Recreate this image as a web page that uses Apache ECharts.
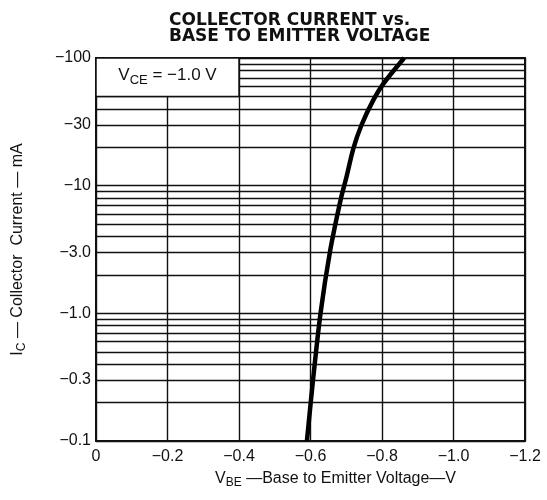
<!DOCTYPE html>
<html>
<head>
<meta charset="utf-8">
<script src="https://cdn.jsdelivr.net/npm/echarts@6/dist/echarts.min.js"></script>
<style>
 html,body{margin:0;padding:0;background:#fff;}
 #container{width:547px;height:500px;}
</style>
</head>
<body>
<div id="container"></div>
<script>
// curve (magnitudes: -V and -mA)
var vbe = [0.590, 0.607, 0.628, 0.655, 0.684, 0.701, 0.720, 0.743, 0.776, 0.804, 0.862];
var ic  = [0.1,   0.3,   1.0,   3.1,   7.7,   11.8,  19.6,  30,    47,    63,    100];

var xTicks = [0, 0.2, 0.4, 0.6, 0.8, 1.0, 1.2];
var yLabels = [0.1, 0.3, 1, 3, 10, 30, 100];
var yGrid = [0.1, 0.2, 0.3, 0.4, 0.5, 0.6, 0.7, 0.8, 0.9,
             1, 2, 3, 4, 5, 6, 7, 8, 9,
             10, 20, 30, 40, 50, 60, 70, 80, 90, 100];

var font = 'Liberation Sans';
var dom = document.getElementById("container");
var myChart = echarts.init(dom);
var pts = vbe.map(function(v, i){ return [v, ic[i]]; });

option = {
	backgroundColor: '#fff',
	animation: false,
	title: {
		text: 'COLLECTOR CURRENT vs.\nBASE TO EMITTER VOLTAGE',
		left: 164, top: 8,
		textStyle: {fontFamily: 'DejaVu Sans', fontWeight: 'bold', fontSize: 17, lineHeight: 16, color: '#111'}
	},
	grid: {left: 96, right: 22, top: 58, bottom: 59, show: true, borderColor: '#111', borderWidth: 2, backgroundColor: 'transparent'},
	xAxis: {
		type: 'value', min: 0, max: 1.2, interval: 0.2,
		axisLine: {show: false}, axisTick: {show: false},
		axisLabel: {
			fontFamily: font, fontSize: 16, color: '#111', margin: 8,
			customValues: xTicks,
			formatter: function(v){ return v === 0 ? '0' : '\u2212' + v.toFixed(1); }
		},
		splitLine: {show: true, lineStyle: {color: '#111', width: 1.4}},
		name: '{v|V}{s|BE}{v| \u2014Base to Emitter Voltage\u2014V}',
		nameLocation: 'middle', nameGap: 30,
		nameTextStyle: {
			padding: [0, 0, 0, 50],
			rich: {
				v: {fontFamily: font, fontSize: 16, color: '#111', lineHeight: 18, verticalAlign: 'top'},
				s: {fontFamily: font, fontSize: 12, color: '#111', lineHeight: 18, verticalAlign: 'bottom', padding: [6, 0, 0, 0]}
			}
		}
	},
	yAxis: {
		type: 'log', logBase: 10, min: 0.1, max: 100,
		axisLine: {show: false},
		axisTick: {show: false, customValues: yGrid},
		axisLabel: {
			fontFamily: font, fontSize: 16, color: '#111', margin: 5,
			customValues: yLabels,
			formatter: function(v){ return '\u2212' + (v >= 10 ? String(Math.round(v)) : v.toFixed(1)); }
		},
		splitLine: {show: true, lineStyle: {color: '#111', width: 1.4}},
		name: '{v|I}{s|C}{v| \u2014 Collector  Current \u2014 mA}',
		nameLocation: 'middle', nameGap: 68, nameRotate: 90,
		nameTextStyle: {
			rich: {
				v: {fontFamily: font, fontSize: 16, color: '#111', lineHeight: 18, verticalAlign: 'top'},
				s: {fontFamily: font, fontSize: 12, color: '#111', lineHeight: 18, verticalAlign: 'bottom', padding: [6, 0, 0, 0]}
			}
		}
	},
	series: [{
		type: 'line',
		data: pts,
		smooth: 0.3,
		symbol: 'none',
		lineStyle: {color: '#000', width: 4.5},
		z: 3,
		markArea: {
			silent: true,
			itemStyle: {color: '#fff', borderColor: '#111', borderWidth: 1.5},
			label: {
				show: true, position: 'inside',
				formatter: '{v|V}{s|CE}{v| = \u22121.0 V}',
				rich: {
					v: {fontFamily: font, fontSize: 17, color: '#111', lineHeight: 20, verticalAlign: 'top'},
					s: {fontFamily: font, fontSize: 13, color: '#111', lineHeight: 20, verticalAlign: 'bottom', padding: [7, 0, 0, 0]}
				}
			},
			data: [[{xAxis: 0, yAxis: 50}, {xAxis: 0.4, yAxis: 100}]]
		}
	}]
};
if (option && typeof option === "object") {
    myChart.setOption(option, true);
}
</script>
</body>
</html>
